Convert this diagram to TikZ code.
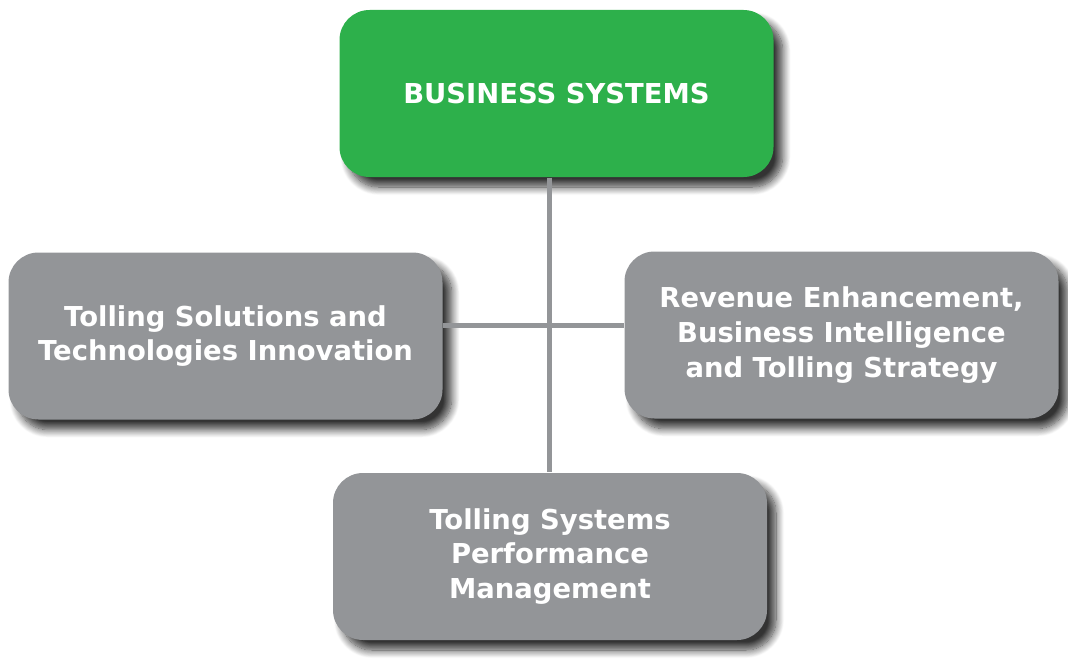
\documentclass[tikz,border=0pt]{standalone}
\usepackage{fontspec}
\setmainfont{DejaVu Sans}
\usepackage{tikz}
\usetikzlibrary{shadows.blur}
\definecolor{bsgreen}{HTML}{2DB04B}
\definecolor{boxgray}{HTML}{939598}
\tikzset{
  unitbox/.style={rounded corners=0.3cm, text=white, align=center, inner sep=0pt,
    minimum width=4.34cm, minimum height=1.67cm,
    font=\fontsize{7.8}{9.9}\selectfont\bfseries,
    blur shadow={shadow xshift=0.09cm, shadow yshift=-0.1cm, shadow blur radius=0.08cm,
      shadow blur steps=12, shadow opacity=80}},
  headbox/.style={unitbox, fill=bsgreen},
  subbox/.style={unitbox, fill=boxgray},
  link/.style={draw=boxgray, line width=0.05cm}
}
\begin{document}
\begin{tikzpicture}
  \useasboundingbox (0,0) rectangle (10.68,-6.58);
  \coordinate (hub) at (5.495,-3.25);
  \node [headbox] (bs) at (5.565,-0.935) {BUSINESS SYSTEMS};
  \node [subbox] (tsti) at (2.255,-3.36) {Tolling Solutions and\\Technologies Innovation};
  \node [subbox] (rev) at (8.415,-3.35) {Revenue Enhancement,\\Business Intelligence\\and Tolling Strategy};
  \node [subbox] (perf) at (5.5,-5.565) {Tolling Systems\\Performance\\Management};
  \draw [link] (bs.south -| hub) -- (perf.north -| hub);
  \draw [link] (hub -| tsti.east) -- (hub -| rev.west);
\end{tikzpicture}
\end{document}
